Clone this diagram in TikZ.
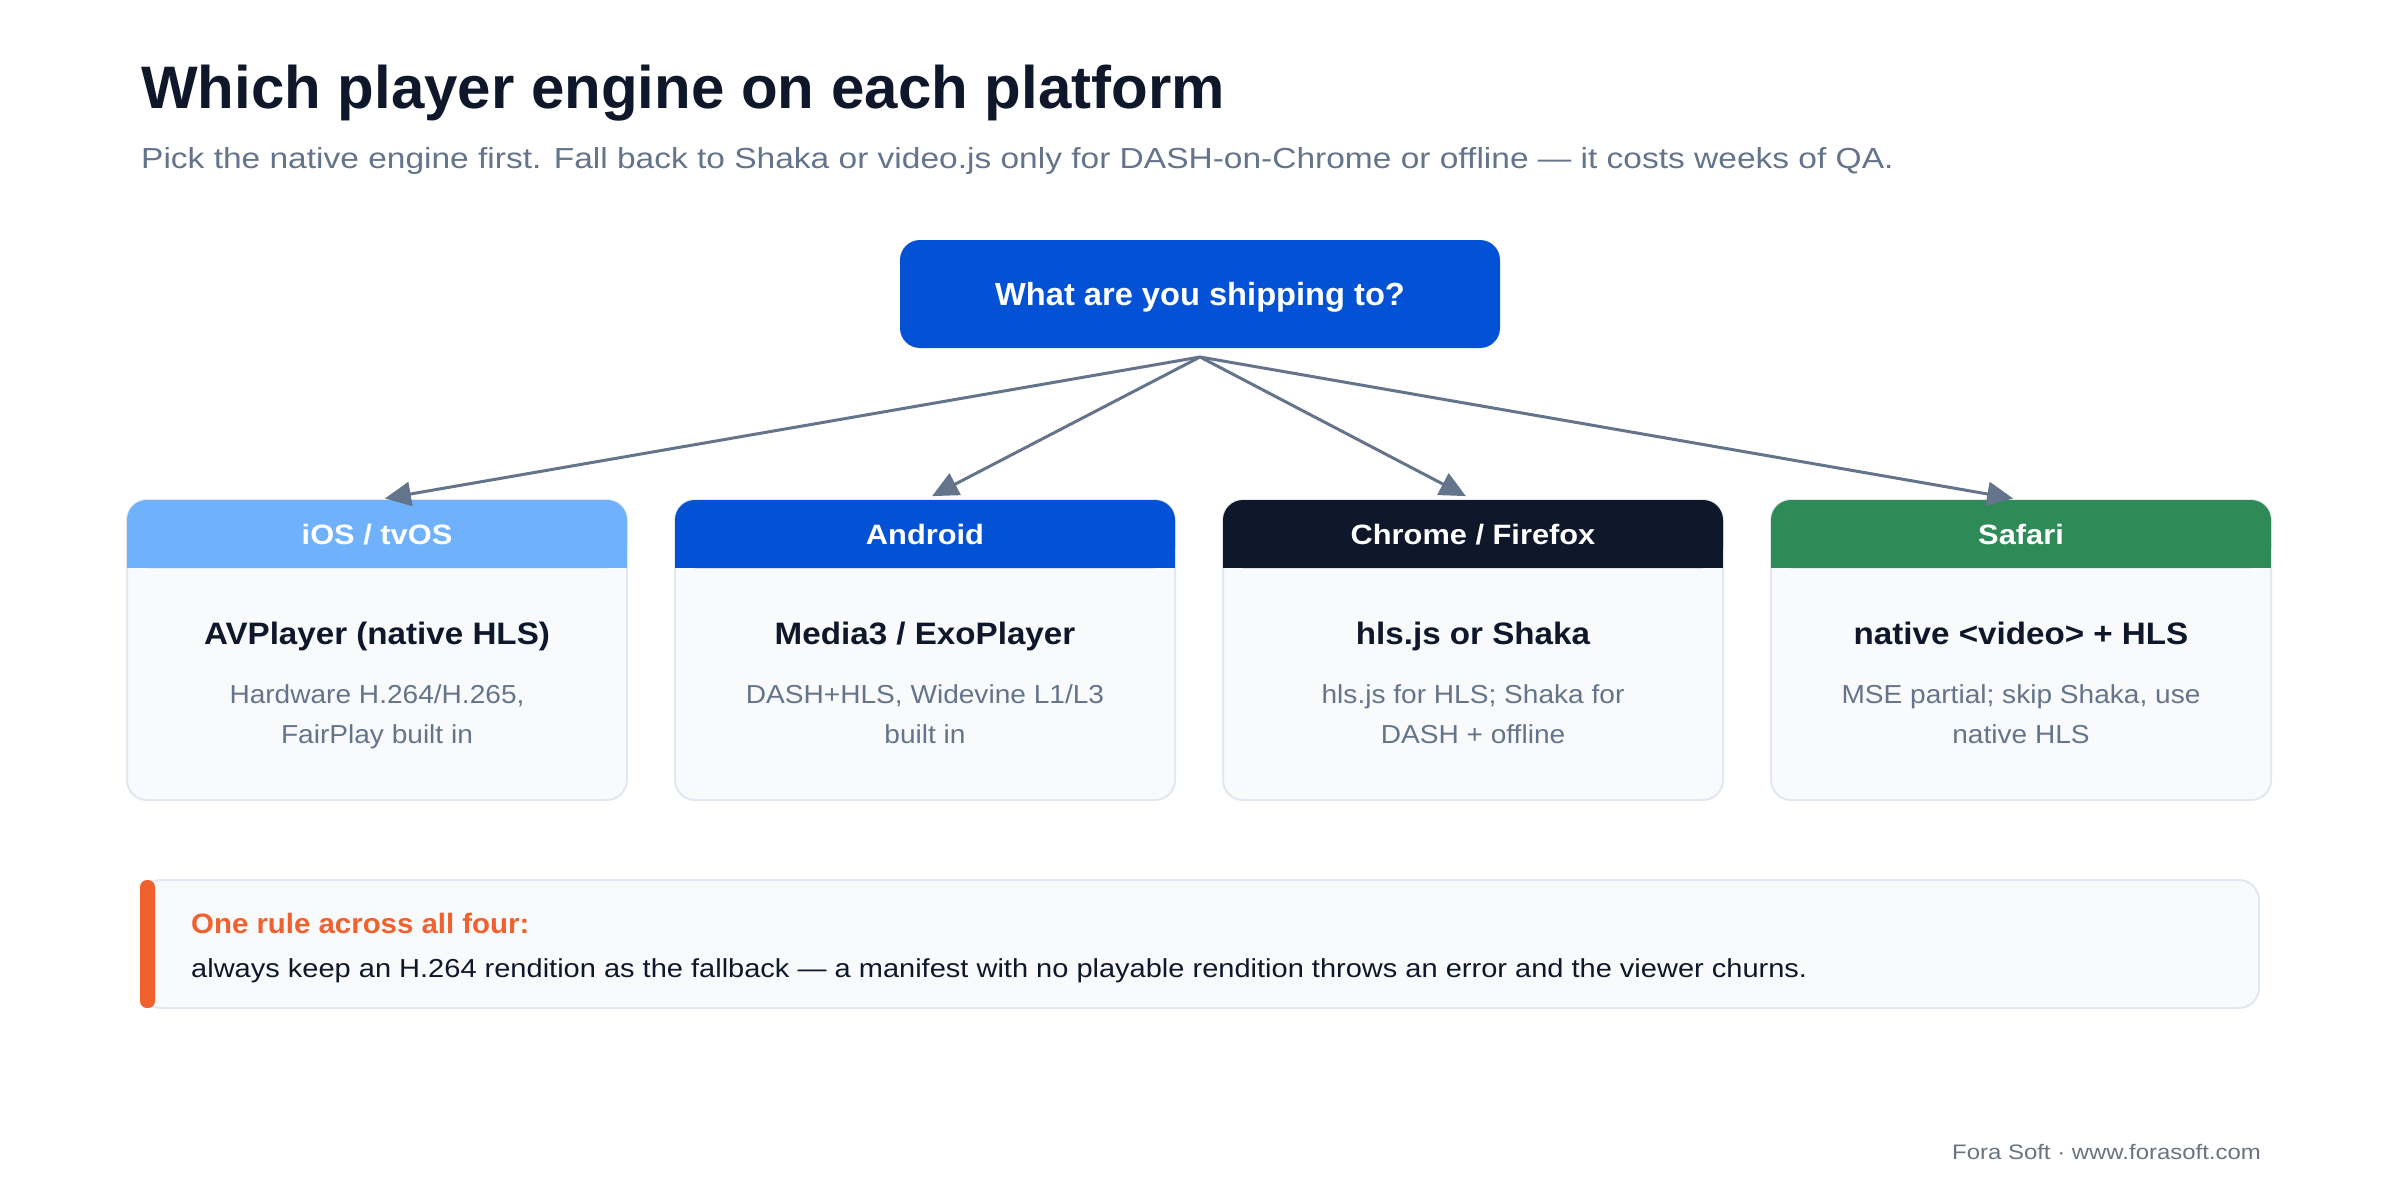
\documentclass[tikz,border=0pt]{standalone}
\usepackage{fontspec}
\setmainfont{Liberation Sans}
\usetikzlibrary{arrows.meta}
\definecolor{ink}{HTML}{0F172A}
\definecolor{slate}{HTML}{64748B}
\definecolor{footgray}{HTML}{6B7280}
\definecolor{blueA}{HTML}{0352D6}
\definecolor{blueL}{HTML}{70B1FC}
\definecolor{greenS}{HTML}{2E8B57}
\definecolor{orangeR}{HTML}{F0612D}
\definecolor{cardfill}{HTML}{F8FAFC}
\definecolor{cardline}{HTML}{E2E8F0}
\newcommand{\fsz}[1]{\fontsize{#1}{#1}\selectfont}
\newcommand{\hstretch}[2]{\scalebox{#1}[1]{#2}}
\tikzset{
  cardbox/.style={draw=cardline, line width=2pt, fill=cardfill, rounded corners=20pt, minimum width=500pt, minimum height=300pt, inner sep=0pt},
  hdrtext/.style={text=white, font=\bfseries\fsz{28}, minimum width=500pt, minimum height=68pt, inner sep=0pt, text height=20pt, text depth=0pt},
  toptext/.style={fill=blueA, rounded corners=20pt, text=white, font=\bfseries\fsz{32}, minimum width=600pt, minimum height=108pt, inner sep=0pt, text height=23pt, text depth=0pt},
  ctitle/.style={anchor=base, text=ink, font=\bfseries\fsz{31}, inner sep=0pt},
  cdesc/.style={anchor=base, text=slate, font=\fsz{26}, inner sep=0pt},
  conn/.style={draw=slate, line width=3pt, -{Triangle[length=26pt,width=24pt]}, shorten >=8pt},
}
\begin{document}
\begin{tikzpicture}[x=1pt,y=-1pt]
\useasboundingbox (0,0) rectangle (2400,1200);
\fill[white] (0,0) rectangle (2400,1200);
% titles
\node[anchor=base west, inner sep=0pt, text=ink, font=\bfseries\fsz{60}] (title) at (141,108) {Which player engine on each platform};
\node[anchor=base west, inner sep=0pt, text=slate, font=\fsz{29}] (sub) at (141,168) {\hstretch{1.155}{Pick the native engine first. Fall back to Shaka or video.js only for DASH-on-Chrome or offline — it costs weeks of QA.}};
% top node
\node[toptext] (top) at (1200,294) {\hstretch{1.02}{What are you shipping to?}};
\coordinate (fork) at (1200,357);
% cards
\foreach \cx/\col/\nm in {377/blueL/h1, 925/blueA/h2, 1473/ink/h3, 2021/greenS/h4}{
  \node[cardbox] (card\nm) at (\cx,650) {};
  \fill[\col, rounded corners=20pt] (\cx-250,500) rectangle (\cx+250,568);
  \fill[\col] (\cx-250,534) rectangle (\cx+250,568);
}
\node[hdrtext] (h1) at (377,534) {\hstretch{1.1}{iOS / tvOS}};
\node[hdrtext] (h2) at (925,534) {\hstretch{1.1}{Android}};
\node[hdrtext] (h3) at (1473,534) {\hstretch{1.1}{Chrome / Firefox}};
\node[hdrtext] (h4) at (2021,534) {\hstretch{1.1}{Safari}};
\node[ctitle] (t1) at (377,644) {\hstretch{1.07}{AVPlayer (native HLS)}};
\node[ctitle] (t2) at (925,644) {\hstretch{1.07}{Media3 / ExoPlayer}};
\node[ctitle] (t3) at (1473,644) {\hstretch{1.07}{hls.js or Shaka}};
\node[ctitle] (t4) at (2021,644) {\hstretch{1.07}{native <video> + HLS}};
\node[cdesc] (d1a) at (377,703) {\hstretch{1.08}{Hardware H.264/H.265,}};
\node[cdesc] (d1b) at (377,743) {\hstretch{1.08}{FairPlay built in}};
\node[cdesc] (d2a) at (925,703) {\hstretch{1.08}{DASH+HLS, Widevine L1/L3}};
\node[cdesc] (d2b) at (925,743) {\hstretch{1.08}{built in}};
\node[cdesc] (d3a) at (1473,703) {\hstretch{1.08}{hls.js for HLS; Shaka for}};
\node[cdesc] (d3b) at (1473,743) {\hstretch{1.08}{DASH + offline}};
\node[cdesc] (d4a) at (2021,703) {\hstretch{1.08}{MSE partial; skip Shaka, use}};
\node[cdesc] (d4b) at (2021,743) {\hstretch{1.08}{native HLS}};
% connectors
\foreach \n in {h1,h2,h3,h4}{ \draw[conn] (fork) -- (\n.north); }
% callout
\node[draw=cardline, line width=2pt, fill=cardfill, rounded corners=20pt, minimum width=2118pt, minimum height=128pt, inner sep=0pt] (callout) at (1200,944) {};
\fill[orangeR, rounded corners=7pt] (140,880) rectangle (155,1008);
\node[anchor=base west, inner sep=0pt, text=orangeR, font=\bfseries\fsz{28}] (rulehead) at (191,933) {\hstretch{1.05}{One rule across all four:}};
\node[anchor=base west, inner sep=0pt, text=ink, font=\fsz{26}] (rulebody) at (191,977) {\hstretch{1.116}{always keep an H.264 rendition as the fallback — a manifest with no playable rendition throws an error and the viewer churns.}};
% footer
\node[anchor=base east, inner sep=0pt, text=footgray, font=\fsz{21}] (footer) at (2261,1159) {\hstretch{1.14}{Fora Soft · www.forasoft.com}};
\end{tikzpicture}
\end{document}
